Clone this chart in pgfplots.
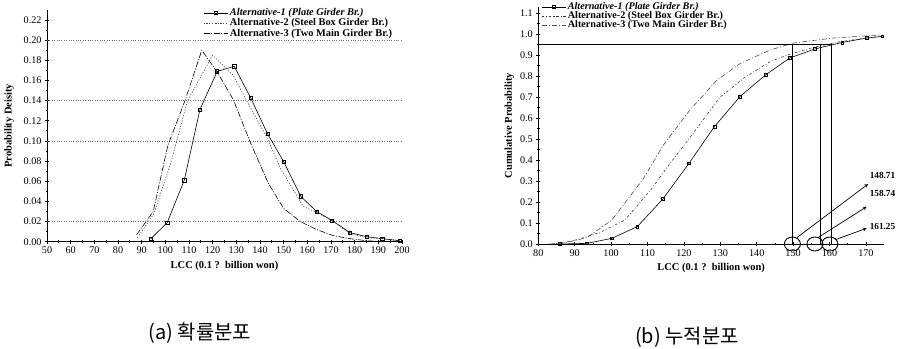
\documentclass[border=0pt]{standalone}
\usepackage{fontspec}
\setmainfont{Liberation Serif}
\newfontfamily\kr{Noto Sans CJK KR}
\usepackage{pgfplots}
\pgfplotsset{compat=1.18}
\pgfplotsset{
  mystyle/.style={
    scale only axis, clip=false,
    axis x line*=bottom, axis y line*=left,
    axis line style={line width=0.9pt, black},
    tick align=center, major tick length=4bp, minor tick length=2.5bp,
    tick style={black, line width=0.7pt},
    minor x tick num=1, minor y tick num=1,
    ticklabel style={font=\fontsize{10.2}{11}\selectfont},
    /pgf/number format/assume math mode=true,
    label style={font=\bfseries\fontsize{10.5}{12}\selectfont},
    legend cell align=left,
    legend image code/.code={\draw[mark repeat=2,mark phase=2,##1] plot coordinates {(0bp,0bp) (12bp,0bp) (24bp,0bp)};},
  },
  a1/.style={black, line width=0.6pt, mark=square, mark size=1.6bp, mark options={solid, fill=white}},
  a2/.style={black!75, line width=0.6pt, dash pattern=on 1.2pt off 1.6pt},
  a3/.style={black, line width=0.6pt, dash pattern=on 6pt off 1.5pt on 1pt off 1.5pt},
  b2/.style={black!80, line width=0.6pt, dash pattern=on 2.5pt off 2pt on 0.8pt off 2pt},
  b3/.style={black!70, line width=0.6pt, dash pattern=on 5pt off 2pt on 1pt off 2pt},
}
\begin{document}
\begin{tikzpicture}[x=1bp,y=1bp]
\path[use as bounding box] (0,0) rectangle (899,348);
% ---------------- (a) ----------------
\begin{axis}[mystyle, at={(47bp,106.3bp)}, anchor=south west,
  width=355bp, height=231.8bp,
  xmin=50, xmax=200, ymin=0, ymax=0.23,
  xtick={50,60,70,80,90,100,110,120,130,140,150,160,170,180,190,200},
  ytick={0,0.02,0.04,0.06,0.08,0.10,0.12,0.14,0.16,0.18,0.20,0.22},
  yticklabel style={/pgf/number format/.cd, fixed, fixed zerofill, precision=2},
  extra y ticks={0.02,0.10,0.14,0.20}, extra y tick labels={},
  extra y tick style={grid=major, major grid style={black!55, dotted, line width=0.6pt}, tick style={draw=none}},
  xlabel={LCC (0.1 ?\ \ billion won)}, ylabel={Probability Deisity},
  ylabel style={yshift=-1bp},
  legend style={at={(0.44,1.015)}, anchor=north west, draw=none, fill=none,
    font=\bfseries\fontsize{10.4}{11}\selectfont, row sep=-2.5bp, inner sep=0pt},
]
\addplot[a1] coordinates {(93.9,0.003) (100.8,0.019) (108.0,0.061) (114.6,0.131) (121.9,0.169) (129.1,0.174) (136.0,0.143) (143.2,0.107) (150.1,0.079) (157.2,0.045) (163.9,0.030) (170.5,0.021) (178,0.009) (185,0.005) (191.7,0.003) (199,0.001)};
\addlegendentry{\itshape Alternative-1 (Plate Girder Br.)}
\addplot[a2] coordinates {(88.2,0.004) (95.2,0.028) (102.3,0.078) (109.4,0.140) (120,0.185) (128.7,0.165) (135,0.137) (142.8,0.104) (149,0.071) (158.3,0.035) (164,0.029) (171,0.020) (178,0.008) (185,0.004) (191.5,0.003) (199,0.001)};
\addlegendentry{Alternative-2 (Steel Box Girder Br.)}
\addplot[a3] coordinates {(87.9,0.007) (94.9,0.030) (101,0.095) (108.3,0.140) (115.4,0.190) (122,0.168) (128.7,0.141) (136,0.098) (143.5,0.058) (150,0.033) (157,0.020) (164,0.012) (171,0.006) (178,0.003) (185,0.001) (192,0.0)};
\addlegendentry{Alternative-3 (Two Main Girder Br.)}
\end{axis}
% ---------------- (b) ----------------
\begin{axis}[mystyle, at={(538.3bp,104bp)}, anchor=south west,
  width=345.8bp, height=237bp,
  xmin=80, xmax=175, ymin=0, ymax=1.13,
  xtick={80,90,100,110,120,130,140,150,160,170},
  ytick={0,0.1,0.2,0.3,0.4,0.5,0.6,0.7,0.8,0.9,1.0,1.1},
  yticklabel style={/pgf/number format/.cd, fixed, fixed zerofill, precision=1},
  xlabel={LCC (0.1 ?\ \ billion won)}, ylabel={Cumulative Probability},
  ylabel style={yshift=-1bp},
  legend style={at={(0.008,1.027)}, anchor=north west, draw=none, fill=none,
    font=\bfseries\fontsize{10.2}{11}\selectfont, row sep=-3.5bp, inner sep=0pt},
]
\addplot[a1, mark size=1.4bp] coordinates {(86,0.0) (93.3,0.003) (100.2,0.027) (107.2,0.083) (114.2,0.214) (121.4,0.385) (128.4,0.56) (135.4,0.703) (142.5,0.807) (149.1,0.887) (156,0.930) (163.5,0.961) (170.2,0.982) (174.5,0.99)};
\addlegendentry{\itshape Alternative-1 (Plate Girder Br.)}
\addplot[b2] coordinates {(84,0.0) (89.2,0.014) (92.4,0.03) (97.4,0.059) (103.8,0.114) (111.2,0.265) (116,0.38) (121.2,0.497) (129.9,0.70) (136.8,0.795) (143.7,0.87) (149.1,0.905) (155.5,0.937) (163,0.965) (170,0.982) (174.5,0.99)};
\addlegendentry{Alternative-2 (Steel Box Girder Br.)}
\addplot[b3] coordinates {(83,0.0) (87,0.005) (93.3,0.03) (100.2,0.114) (108.8,0.31) (114.3,0.47) (121.7,0.64) (129,0.78) (135.4,0.86) (143.7,0.925) (150,0.958) (161,0.982) (174,0.997)};
\addlegendentry{Alternative-3 (Two Main Girder Br.)}
\addplot[black, line width=1pt, forget plot] coordinates {(80,0.95) (160.6,0.95)};
\addplot[black, line width=1pt, forget plot] coordinates {(149.8,0) (149.8,0.95)};
\addplot[black, line width=1pt, forget plot] coordinates {(157.6,0) (157.6,0.95)};
\addplot[black, line width=1pt, forget plot] coordinates {(160.6,0) (160.6,0.95)};
\addplot[only marks, mark=o, mark size=7bp, mark options={xscale=1.15, line width=0.9pt, black}, forget plot] coordinates {(149.8,0) (156.0,0) (160.1,0)};
\addplot[black, line width=0.7pt, -stealth, forget plot] coordinates {(151,0.03) (170.6,0.286)};
\addplot[black, line width=0.7pt, -stealth, forget plot] coordinates {(156.8,0.03) (170.2,0.178)};
\addplot[black, line width=0.7pt, -stealth, forget plot] coordinates {(161.5,0.02) (170.2,0.075)};
\node[anchor=west, inner sep=0pt, font=\bfseries\fontsize{9.3}{10}\selectfont] at (axis cs:171.0,0.325) {148.71};
\node[anchor=west, inner sep=0pt, font=\bfseries\fontsize{9.3}{10}\selectfont] at (axis cs:171.0,0.24) {158.74};
\node[anchor=west, inner sep=0pt, font=\bfseries\fontsize{9.3}{10}\selectfont] at (axis cs:171.0,0.085) {161.25};
\end{axis}
\node[font=\kr\fontsize{20}{24}\selectfont] at (200,15) {(a)\ 확률분포};
\node[font=\kr\fontsize{20}{24}\selectfont] at (687,11) {(b)\ 누적분포};
\end{tikzpicture}
\end{document}
